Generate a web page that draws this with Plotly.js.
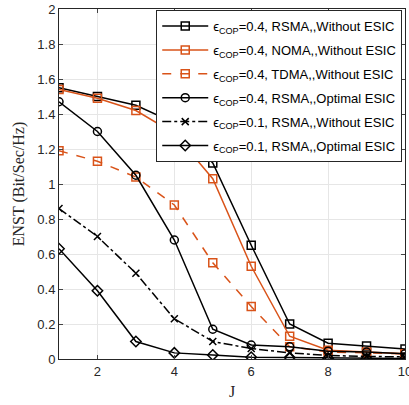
<!DOCTYPE html>
<html><head><meta charset="utf-8">
<script src="https://cdn.plot.ly/plotly-3.0.1.min.js"></script>
<style>body{margin:0;padding:0;background:#fff}</style>
</head><body><div id="chart" style="width:409px;height:405px"></div>
<script>
const J = [1,2,3,4,5,6,7,8,9,10];
const rsmaNoEsic04 = [1.55,1.50,1.45,1.35,1.12,0.65,0.20,0.09,0.075,0.057];
const nomaNoEsic04 = [1.54,1.49,1.42,1.29,1.03,0.53,0.13,0.05,0.04,0.03];
const tdmaNoEsic04 = [1.19,1.13,1.04,0.88,0.55,0.30,0.07,0.04,0.035,0.03];
const rsmaOptEsic04 = [1.47,1.30,1.05,0.68,0.17,0.08,0.07,0.045,0.04,0.03];
const rsmaNoEsic01 = [0.86,0.70,0.49,0.23,0.10,0.06,0.035,0.02,0.015,0.012];
const rsmaOptEsic01 = [0.63,0.39,0.10,0.035,0.023,0.01,0.008,0.005,0.003,0.003];
const names = [
 'ϵ<sub>COP</sub>=0.4, RSMA,,Without ESIC',
 'ϵ<sub>COP</sub>=0.4, NOMA,,Without ESIC',
 'ϵ<sub>COP</sub>=0.4, TDMA,,Without ESIC',
 'ϵ<sub>COP</sub>=0.4, RSMA,,Optimal ESIC',
 'ϵ<sub>COP</sub>=0.1, RSMA,,Without ESIC',
 'ϵ<sub>COP</sub>=0.1, RSMA,,Optimal ESIC'
];
const yTicks = [0,0.2,0.4,0.6,0.8,1,1.2,1.4,1.6,1.8,2];
const yTickText = ['0','0.2','0.4','0.6','0.8','1','1.2','1.4','1.6','1.8','2'];
const xTicks = [2,4,6,8,10];

const BLACK = '#000000', ORANGE = '#D95319';
function tr(i, y, color, dash, symbol){
  return {x: J, y: y, name: names[i], legendgroup: 'g' + i, type: 'scatter', mode: 'lines+markers',
    line: {color: color, width: 1.5, dash: dash},
    marker: {symbol: symbol, size: symbol.startsWith('x') ? 7 : 8, color: color,
      line: {color: color, width: 1.5}}};
}
const data = [
  tr(0, rsmaNoEsic04, BLACK, 'solid', 'square-open'),
  tr(1, nomaNoEsic04, ORANGE, 'solid', 'square-open'),
  tr(2, tdmaNoEsic04, ORANGE, 'dash', 'square-open'),
  tr(3, rsmaOptEsic04, BLACK, 'solid', 'circle-open'),
  tr(4, rsmaNoEsic01, BLACK, 'dashdot', 'x-thin-open'),
  tr(5, rsmaOptEsic01, BLACK, 'solid', 'diamond-open')
];
const layout = {
  width: 409, height: 405,
  margin: {l: 59, r: 4, t: 9, b: 46},
  paper_bgcolor: '#fff', plot_bgcolor: '#fff',
  font: {family: 'Liberation Sans, Arial, sans-serif', size: 13, color: '#262626'},
  showlegend: true,
  legend: {x: 0.992, y: 0.997, xanchor: 'right', yanchor: 'top',
    bgcolor: '#fff', bordercolor: '#262626', borderwidth: 1,
    font: {size: 13, color: '#000'}, itemwidth: 46, tracegroupgap: 4},
  xaxis: {range: [1, 10], tickvals: xTicks, ticks: 'inside', ticklen: 4,
    ticklabeloverflow: 'allow',
    showgrid: true, gridcolor: '#e6e6e6', zeroline: false,
    showline: true, linecolor: '#262626', linewidth: 1, mirror: 'ticks',
    title: {text: 'J', font: {family: 'Liberation Serif, DejaVu Serif, serif', size: 16, color: '#262626'}, standoff: 8}},
  yaxis: {range: [0, 2], tickvals: yTicks, ticktext: yTickText, ticks: 'inside', ticklen: 4,
    showgrid: true, gridcolor: '#e6e6e6', zeroline: false,
    showline: true, linecolor: '#262626', linewidth: 1, mirror: 'ticks',
    title: {text: 'ENST (Bit/Sec/Hz)', font: {family: 'Liberation Serif, DejaVu Serif, serif', size: 16, color: '#262626'}, standoff: 8}}
};
Plotly.newPlot('chart', data, layout, {displayModeBar: false, staticPlot: true});
</script></body></html>
